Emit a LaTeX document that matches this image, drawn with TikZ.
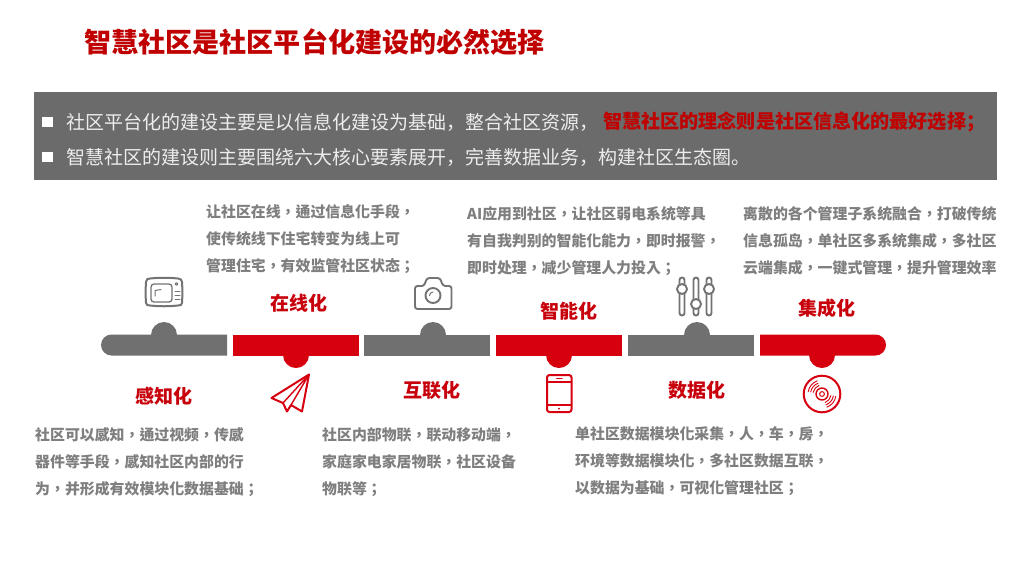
\documentclass[tikz,border=0pt]{standalone}
\usepackage{fontspec}
\setmainfont{Noto Sans CJK SC}
\newfontfamily\sccjk{Noto Sans CJK SC}
\newfontfamily\tccjk{Noto Sans CJK TC}
\definecolor{hdred}{HTML}{C00000}
\definecolor{barred}{HTML}{D6000F}
\definecolor{lblred}{HTML}{C8000C}
\definecolor{boxgray}{HTML}{6B6B6B}
\definecolor{bargray}{HTML}{707070}
\definecolor{txtgray}{HTML}{7F7F7F}
\definecolor{icongray}{HTML}{737373}
\definecolor{boxtxt}{HTML}{EDEDED}
\tikzset{
  x=1pt,y=-1pt,
  titletext/.style={anchor=west,inner sep=0,text=hdred,font=\sccjk\bfseries\fontsize{27.1}{30}\selectfont},
  boxline/.style={anchor=west,inner sep=0,text=boxtxt,font=\sccjk\fontsize{19}{22}\selectfont},
  boxred/.style={anchor=west,inner sep=0,text=hdred,font=\sccjk\bfseries\fontsize{19.1}{22}\selectfont},
  stagelabel/.style={inner sep=0,text=lblred,font=\sccjk\bfseries\fontsize{19}{22}\selectfont},
  desc/.style={anchor=north west,inner sep=0,align=left,text=txtgray,font=\tccjk\bfseries\fontsize{14.9}{27}\selectfont},
  giconline/.style={draw=icongray,line width=1.6pt,line join=round,line cap=round},
  riconline/.style={draw=barred,line width=1.7pt,line join=round,line cap=round},
}
\begin{document}
\begin{tikzpicture}
\useasboundingbox (0,0) rectangle (1024,576);
\fill[white] (0,0) rectangle (1024,576);
\node[titletext] (title) at (84,42) {智慧社区是社区平台化建设的必然选择};
% grey banner
\fill[boxgray] (34,92) rectangle (997,180);
\fill[white] (42,117) rectangle (53,127);
\fill[white] (42,152) rectangle (53,162);
\node[boxline] (l1) at (66,122) {社区平台化的建设主要是以信息化建设为基础，整合社区资源，};
\node[boxred] (l1r) at (603,122) {智慧社区的理念则是社区信息化的最好选择；};
\node[boxline] (l2) at (66,157) {智慧社区的建设则主要围绕六大核心要素展开，完善数据业务，构建社区生态圈。};
% bar
\fill[bargray] (111.5,334.5) arc[start angle=90,end angle=270,radius=10.5pt] -- (227,355.5) -- (227,334.5) -- cycle;
\fill[bargray] (151,335) arc[start angle=180,end angle=0,radius=13pt] -- cycle;
\fill[barred] (233,334.5) rectangle (359,355.5);
\fill[barred] (283,355) arc[start angle=180,end angle=360,radius=13pt] -- cycle;
\fill[bargray] (364,334.5) rectangle (490,355.5);
\fill[bargray] (420,335) arc[start angle=180,end angle=0,radius=13pt] -- cycle;
\fill[barred] (496,334.5) rectangle (622,355.5);
\fill[barred] (546,355) arc[start angle=180,end angle=360,radius=13pt] -- cycle;
\fill[bargray] (628,334.5) rectangle (754,355.5);
\fill[bargray] (684,335) arc[start angle=180,end angle=0,radius=13pt] -- cycle;
\fill[barred] (760,334.5) -- (875.5,334.5) arc[start angle=90,end angle=-90,radius=10.5pt] -- (760,355.5) -- cycle;
\fill[barred] (809,355) arc[start angle=180,end angle=360,radius=13pt] -- cycle;
% stage labels
\node[stagelabel] (s1) at (163.5,396) {感知化};
\node[stagelabel] (s2) at (299,303) {在线化};
\node[stagelabel] (s3) at (432,390) {互联化};
\node[stagelabel] (s4) at (569,311) {智能化};
\node[stagelabel] (s5) at (697,390) {数据化};
\node[stagelabel] (s6) at (827,308) {集成化};
% descriptions
\node[desc] (d2) at (206,204.5) {让社区在线，通过信息化手段，\\使传统线下住宅转变为线上可\\管理住宅，有效监管社区状态；};
\node[desc] (d4) at (467,206.5) {AI应用到社区，让社区弱电系统等具\\有自我判别的智能化能力，即时报警，\\即时处理，减少管理人力投入；};
\node[desc] (d6) at (743,206.5) {离散的各个管理子系统融合，打破传统\\信息孤岛，单社区多系统集成，多社区\\云端集成，一键式管理，提升管理效率};
\node[desc] (d1) at (35,427.5) {社区可以感知，通过视频，传感\\器件等手段，感知社区内部的行\\为，并形成有效模块化数据基础；};
\node[desc] (d3) at (322,427.5) {社区内部物联，联动移动端，\\家庭家电家居物联，社区设备\\物联等；};
\node[desc] (d5) at (575,426.5) {单社区数据模块化采集，人，车，房，\\环境等数据模块化，多社区数据互联，\\以数据为基础，可视化管理社区；};
% TV icon
\draw[giconline,line width=2pt] (146,282) .. controls (146,279) and (148,278.5) .. (150,278.5) .. controls (160,277.5) and (168,277.5) .. (178,278.5) .. controls (180.5,278.5) and (182,280) .. (182,282) .. controls (182.5,289) and (182.5,296) .. (182,303) .. controls (182,305) and (180.5,305.5) .. (178,305.5) .. controls (168,306.5) and (160,306.5) .. (150,305.5) .. controls (148,305.5) and (146,305) .. (146,303) .. controls (145.5,296) and (145.5,289) .. (146,282) -- cycle;
\draw[giconline,line width=1.3pt,rounded corners=3pt] (151,284) rectangle (172,302);
\draw[giconline,line width=1pt] (155,296) -- (155,290.5) -- (161,289.5);
\draw[giconline,line width=1.1pt] (176.5,284) circle[radius=1.3];
\draw[giconline,line width=1pt] (175,291.5) -- (180,291.5) (175,295.5) -- (180,295.5) (175,299.5) -- (180,299.5);
% camera icon
\draw[giconline,line width=1.9pt,rounded corners=2.5pt] (415,286) -- (424,286) -- (427,278) -- (440,278) -- (443,286) -- (451.5,286) -- (451.5,309) -- (415,309) -- cycle;
\draw[giconline,line width=1.9pt] (433,295.5) circle[radius=7.5];
\draw[giconline,line width=1pt] (429.5,295.5) arc[start angle=180,end angle=90,radius=3.5pt];
% sliders icon
\draw[giconline,line width=1.9pt,rounded corners=2.5pt] (679.5,277.5) rectangle (684.5,315.5);
\draw[giconline,line width=1.9pt,rounded corners=2.5pt] (693.5,277.5) rectangle (698.5,315.5);
\draw[giconline,line width=1.9pt,rounded corners=2.5pt] (706.5,277.5) rectangle (711.5,315.5);
\draw[giconline,line width=1.9pt,fill=white] (682,289) circle[radius=5];
\draw[giconline,line width=1.9pt,fill=white] (696,304) circle[radius=5];
\draw[giconline,line width=1.9pt,fill=white] (709,289) circle[radius=5];
% plane icon
\draw[riconline,line width=2pt] (309,374.5) -- (271.5,398) -- (283,403) -- (287,411.5) -- (291,405) -- (302,411.5) -- cycle;
\draw[riconline,line width=1.4pt] (309,374.5) -- (283,403) (309,374.5) -- (291,405);
% phone icon
\draw[riconline,line width=2pt,rounded corners=2.5pt] (547,375) rectangle (571.5,412);
\draw[riconline,line width=1.2pt] (547,382) -- (571.5,382) (547,405) -- (571.5,405);
\draw[riconline,line width=1pt] (556.5,378.5) -- (562,378.5);
\fill[barred] (559,408.7) circle[radius=1];
% disc icon
\draw[riconline,line width=2pt] (822,394) circle[radius=18.3];
\draw[riconline,line width=1.4pt] (822,394) circle[radius=6];
\draw[riconline,line width=1pt] (822,394) circle[radius=2.4];
\foreach \r in {9,11.5,14}{
  \draw[riconline,line width=0.9pt] (822,394) ++(110:\r pt) arc[start angle=110,end angle=170,radius=\r pt];
  \draw[riconline,line width=0.9pt] (822,394) ++(-70:\r pt) arc[start angle=-70,end angle=-10,radius=\r pt];
}
\end{tikzpicture}
\end{document}
